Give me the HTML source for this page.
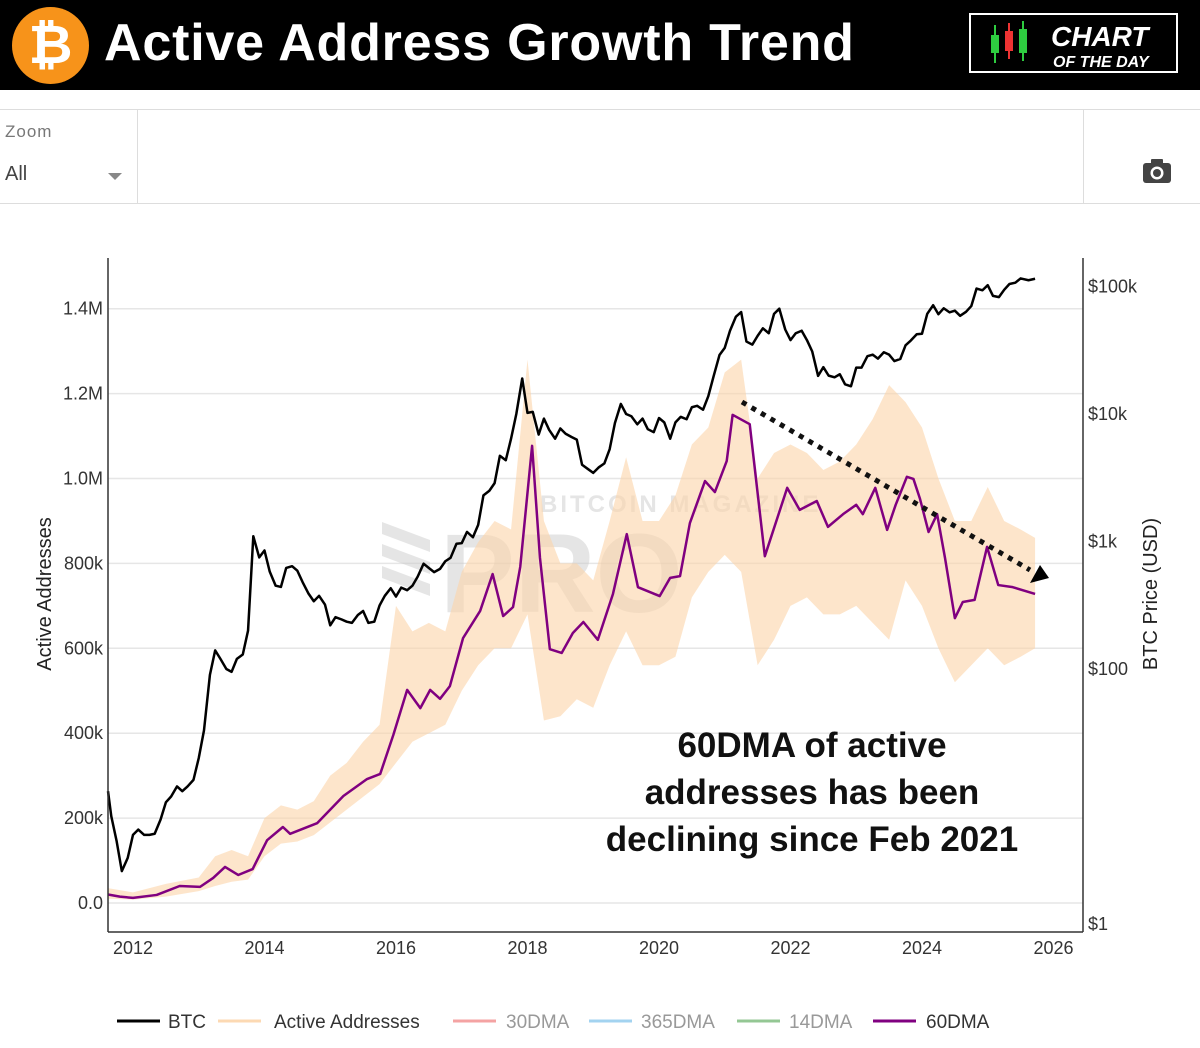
<!DOCTYPE html>
<html><head><meta charset="utf-8"><style>
body{margin:0;width:1200px;height:1048px;background:#fff;font-family:"Liberation Sans",sans-serif;overflow:hidden;position:relative}
#hdr{position:absolute;left:0;top:0;width:1200px;height:90px;background:#000}
#title{position:absolute;left:104px;top:13px;color:#fff;font-weight:bold;font-size:52px;letter-spacing:0.8px}
#logo{position:absolute;left:12px;top:7px;width:77px;height:77px;border-radius:50%;background:#f7931a;color:#fff;font-size:54px;font-weight:bold;text-align:center;line-height:77px}
#cotd{position:absolute;left:969px;top:13px;width:209px;height:60px;border:2px solid #fff;box-sizing:border-box}
#tool{position:absolute;left:0;top:109px;width:1200px;height:95px;border-top:1px solid #ddd;border-bottom:1px solid #ddd;box-sizing:border-box}
</style></head><body>
<div id="hdr">
 <div id="logo">₿</div>
 <div id="title">Active Address Growth Trend</div>
 <div id="cotd">
  <svg width="205" height="56" style="position:absolute;left:0;top:0">
   <line x1="24" y1="10" x2="24" y2="48" stroke="#2ecc40" stroke-width="2"/><rect x="20" y="20" width="8" height="18" fill="#2ecc40"/>
   <line x1="38" y1="8" x2="38" y2="44" stroke="#e33" stroke-width="2"/><rect x="34" y="16" width="8" height="20" fill="#e33"/>
   <line x1="52" y1="6" x2="52" y2="46" stroke="#2ecc40" stroke-width="2"/><rect x="48" y="14" width="8" height="24" fill="#2ecc40"/>
   <text x="80" y="31" fill="#fff" font-size="28" font-weight="bold" font-style="italic" font-family="Liberation Sans">CHART</text>
   <text x="82" y="52" fill="#fff" font-size="16" font-weight="bold" font-style="italic" font-family="Liberation Sans">OF THE DAY</text>
  </svg>
 </div>
</div>
<div id="tool">
 <div style="position:absolute;left:5px;top:12px;font-size:17px;color:#777;letter-spacing:1px">Zoom</div>
 <div style="position:absolute;left:5px;top:53px;font-size:20px;color:#444">All</div>
 <div style="position:absolute;left:108px;top:63px;width:0;height:0;border-left:7px solid transparent;border-right:7px solid transparent;border-top:7px solid #888"></div>
 <div style="position:absolute;left:137px;top:0;width:1px;height:94px;background:#ddd"></div>
 <div style="position:absolute;left:1083px;top:0;width:1px;height:94px;background:#ddd"></div>
 <svg style="position:absolute;left:1142px;top:48px" width="30" height="26"><rect x="1" y="5" width="28" height="20" rx="3" fill="#444"/><rect x="9" y="1" width="12" height="6" rx="1" fill="#444"/><circle cx="15" cy="15" r="6.5" fill="#fff"/><circle cx="15" cy="15" r="4" fill="#444"/></svg>
</div>
<svg id="chart" width="1200" height="1048" style="position:absolute;left:0;top:0"></svg>
<script>
const btcYears=[2011.62,2011.67,2011.75,2011.83,2011.92,2012.0,2012.08,2012.17,2012.25,2012.33,2012.42,2012.5,2012.58,2012.67,2012.75,2012.83,2012.92,2013.0,2013.08,2013.17,2013.25,2013.33,2013.42,2013.5,2013.58,2013.67,2013.75,2013.83,2013.92,2014.0,2014.08,2014.17,2014.25,2014.33,2014.42,2014.5,2014.58,2014.67,2014.75,2014.83,2014.92,2015.0,2015.08,2015.17,2015.25,2015.33,2015.42,2015.5,2015.58,2015.67,2015.75,2015.83,2015.92,2016.0,2016.08,2016.17,2016.25,2016.33,2016.42,2016.5,2016.58,2016.67,2016.75,2016.83,2016.92,2017.0,2017.08,2017.17,2017.25,2017.33,2017.42,2017.5,2017.58,2017.67,2017.75,2017.83,2017.92,2018.0,2018.08,2018.17,2018.25,2018.33,2018.42,2018.5,2018.58,2018.67,2018.75,2018.83,2018.92,2019.0,2019.08,2019.17,2019.25,2019.33,2019.42,2019.5,2019.58,2019.67,2019.75,2019.83,2019.92,2020.0,2020.08,2020.17,2020.25,2020.33,2020.42,2020.5,2020.58,2020.67,2020.75,2020.83,2020.92,2021.0,2021.08,2021.17,2021.25,2021.33,2021.42,2021.5,2021.58,2021.67,2021.75,2021.83,2021.92,2022.0,2022.08,2022.17,2022.25,2022.33,2022.42,2022.5,2022.58,2022.67,2022.75,2022.83,2022.92,2023.0,2023.08,2023.17,2023.25,2023.33,2023.42,2023.5,2023.58,2023.67,2023.75,2023.83,2023.92,2024.0,2024.08,2024.17,2024.25,2024.33,2024.42,2024.5,2024.58,2024.67,2024.75,2024.83,2024.92,2025.0,2025.08,2025.17,2025.25,2025.33,2025.42,2025.5,2025.62,2025.72];
const btcPrice=[11,7,4.5,2.6,3.3,5,5.5,5,5,5.1,6.6,9,10,12,11,12,13.5,20,33,90,140,120,100,95,120,130,200,1100,750,850,580,450,440,620,640,590,480,390,340,375,320,220,255,245,235,230,265,285,230,235,315,375,430,370,435,415,450,530,670,620,575,610,700,745,960,970,1190,1080,1350,2300,2500,2870,4700,4340,6400,10000,19000,10200,10400,6900,9200,7500,6400,7700,7000,6600,6300,4000,3700,3450,3800,4100,5300,8500,12000,10000,9600,8300,9200,7600,7200,9300,8600,6400,8600,9500,9100,11300,11600,10800,13800,19700,29000,33000,45000,58000,63000,37000,35000,41000,47000,43000,61000,67000,46000,38000,43000,45000,38000,31000,19900,23300,20000,19400,20500,17100,16500,23100,23100,28400,29200,27200,30500,29200,26000,27000,34600,37700,42200,42600,61100,71300,60600,67500,62700,64600,58900,63300,70200,96400,93400,102400,84400,82500,94200,104600,107100,115700,112000,115000];
const dmaYears=[2011.62,2011.8,2012.0,2012.36,2012.71,2013.02,2013.22,2013.4,2013.6,2013.82,2014.04,2014.28,2014.39,2014.8,2015.2,2015.56,2015.76,2015.96,2016.17,2016.37,2016.52,2016.67,2016.82,2017.02,2017.28,2017.47,2017.63,2017.78,2017.89,2018.07,2018.19,2018.34,2018.52,2018.69,2018.85,2019.07,2019.3,2019.51,2019.68,2020.01,2020.17,2020.32,2020.47,2020.7,2020.85,2021.03,2021.12,2021.38,2021.61,2021.95,2022.14,2022.4,2022.57,2022.8,2023.0,2023.1,2023.29,2023.47,2023.6,2023.77,2023.87,2023.97,2024.1,2024.23,2024.35,2024.5,2024.62,2024.8,2024.99,2025.16,2025.38,2025.72];
const dmaValues=[20,15,12,19,40,38,59,85,66,80,148,179,163,188,252,292,304,396,502,459,502,481,511,624,688,775,676,697,792,1077,813,598,589,636,662,620,728,869,744,723,766,770,895,994,968,1041,1150,1128,817,978,926,947,886,916,938,916,978,879,938,1004,999,952,874,916,813,671,709,714,839,749,744,728];
const aaYears=[2011.62,2012.0,2012.5,2013.0,2013.25,2013.5,2013.75,2014.0,2014.25,2014.5,2014.75,2015.0,2015.25,2015.5,2015.75,2016.0,2016.25,2016.5,2016.75,2017.0,2017.25,2017.5,2017.75,2018.0,2018.25,2018.5,2018.75,2019.0,2019.25,2019.5,2019.75,2020.0,2020.25,2020.5,2020.75,2021.0,2021.25,2021.5,2021.75,2022.0,2022.25,2022.5,2022.75,2023.0,2023.25,2023.5,2023.75,2024.0,2024.25,2024.5,2024.75,2025.0,2025.25,2025.5,2025.72];
const aaLow=[10,8,15,28,40,50,55,110,140,145,160,190,220,250,280,330,380,400,420,500,560,600,600,680,430,440,480,460,560,640,560,560,580,720,780,820,780,560,620,700,720,680,680,700,660,620,760,700,600,520,560,600,560,580,600];
const aaHigh=[35,25,45,60,110,125,110,200,230,220,240,300,330,380,420,700,640,660,640,780,850,900,880,1280,900,800,800,760,900,1050,900,900,960,1080,1120,1250,1280,1000,1060,1080,1060,1020,1040,1080,1140,1220,1180,1120,1000,900,900,980,900,880,860];
const leftTicks=[0,200,400,600,800,1000,1200,1400];
const leftTickLabels=["0.0","200k","400k","600k","800k","1.0M","1.2M","1.4M"];
const rightTicks=[1,100,1000,10000,100000];
const rightTickLabels=["$1","$100","$1k","$10k","$100k"];
const xTicks=[2012,2014,2016,2018,2020,2022,2024,2026];

const NS="http://www.w3.org/2000/svg";
const svg=document.getElementById('chart');
const X=t=>108+(t-2011.62)*65.75;
const YL=v=>903-v/200*84.9;
const YR=p=>924-Math.log10(p)*127.5;
function mk(tag,attrs,parent){const e=document.createElementNS(NS,tag);for(const k in attrs)e.setAttribute(k,attrs[k]);(parent||svg).appendChild(e);return e;}
leftTicks.forEach((v,i)=>{
 const g=mk('line',{x1:108,x2:1083,y1:YL(v),y2:YL(v),stroke:'#e6e6e6','stroke-width':1.5});
 
 
 const t=mk('text',{x:103,y:YL(v)+6,'text-anchor':'end','font-size':18,fill:'#333'});t.textContent=leftTickLabels[i];
 
 
});
rightTicks.forEach((v,i)=>{
 const t=mk('text',{x:1088,y:YR(v)+6,'font-size':18,fill:'#333'});t.textContent=rightTickLabels[i];
 
 
});
xTicks.forEach(v=>{
 const t=mk('text',{x:X(v),y:954,'text-anchor':'middle','font-size':18,fill:'#333'});t.textContent=v;
 
 
});
const wm=mk('g',{opacity:0.5});


mk('text',{x:540,y:512,'font-size':24,'font-weight':'bold',fill:'#ccc','letter-spacing':3},wm).textContent='BITCOIN MAGAZINE';
mk('text',{x:440,y:612,'font-size':112,'font-weight':'bold',fill:'#ccc'},wm).textContent='PRO';
[0,1,2].forEach(i=>mk('polygon',{points:`${382},${522+i*22} ${430},${540+i*22} ${430},${552+i*22} ${382},${534+i*22}`,fill:'#ccc'},wm));
let pts=aaYears.map((t,i)=>X(t)+','+YL(aaHigh[i]));
for(let i=aaYears.length-1;i>=0;i--)pts.push(X(aaYears[i])+','+YL(aaLow[i]));
const band=mk('polygon',{points:pts.join(' '),fill:'#fbd3a8',opacity:0.6});


const dma=mk('polyline',{points:dmaYears.map((t,i)=>X(t)+','+YL(dmaValues[i])).join(' '),fill:'none',stroke:'#800080','stroke-width':2.5,'stroke-linejoin':'round'});


const btc=mk('polyline',{points:btcYears.map((t,i)=>X(t)+','+YR(btcPrice[i])).join(' '),fill:'none',stroke:'#000','stroke-width':2.5,'stroke-linejoin':'round'});


const ax1=mk('line',{x1:108,x2:108,y1:258,y2:932,stroke:'#333','stroke-width':1.5});


const ax2=mk('line',{x1:1083,x2:1083,y1:258,y2:932,stroke:'#333','stroke-width':1.5});


const ax3=mk('line',{x1:108,x2:1083,y1:932,y2:932,stroke:'#333','stroke-width':1.5});


const yl=mk('text',{x:0,y:0,transform:'translate(51,594) rotate(-90)','text-anchor':'middle','font-size':20,fill:'#222'});yl.textContent='Active Addresses';


const yr=mk('text',{x:0,y:0,transform:'translate(1157,594) rotate(-90)','text-anchor':'middle','font-size':20,fill:'#222'});yr.textContent='BTC Price (USD)';


const tr=mk('line',{x1:742,y1:402,x2:1030,y2:570,stroke:'#111','stroke-width':5,'stroke-dasharray':'5 6'});


const ah=mk('polygon',{points:'1049,578 1030,583 1040,565',fill:'#000'});


['60DMA of active','addresses has been','declining since Feb 2021'].forEach((s,i)=>{
 const t=mk('text',{x:812,y:757+i*47,'text-anchor':'middle','font-size':35,'font-weight':'bold',fill:'#111'});t.textContent=s;
 
 
});
const leg=[['BTC','#000',117,168,'#333'],['Active Addresses','#fcd9b3',218,274,'#333'],['30DMA','#f4a3a3',453,506,'#999'],['365DMA','#a3d3f0',589,641,'#999'],['14DMA','#94c794',737,789,'#999'],['60DMA','#800080',873,926,'#333']];
leg.forEach(l=>{
 const g=mk('g',{});
 
 
 mk('line',{x1:l[2],x2:l[2]+43,y1:1021,y2:1021,stroke:l[1],'stroke-width':3},g);
 mk('text',{x:l[3],y:1028,'font-size':19,fill:l[4]},g).textContent=l[0];
});
</script>
</body></html>
